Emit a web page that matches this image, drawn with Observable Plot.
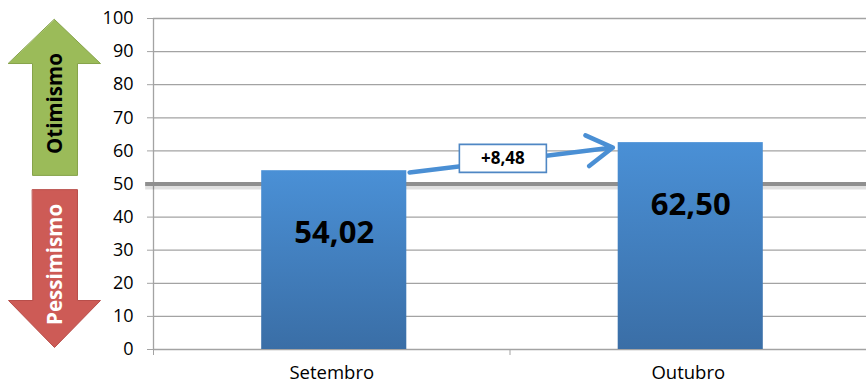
<!DOCTYPE html>
<html><head><meta charset="utf-8">
<script src="https://cdn.jsdelivr.net/npm/d3@7"></script>
<script src="https://cdn.jsdelivr.net/npm/@observablehq/plot@0.6"></script>
<style>
body{margin:0;background:#fff}
#chart svg{display:block}
</style>
</head><body><div id="chart"></div>
<script>
// ---- data ----
const categories = ["Setembro", "Outubro"];
const values = [54.02, 62.50];
const valueLabels = ["54,02", "62,50"];
const yTicks = [0, 10, 20, 30, 40, 50, 60, 70, 80, 90, 100];
const neutralLine = [50];
const changeLabel = ["+8,48"];
const changeArrowY = [53.5, 61.0];      // y of arrow start / end (data units)
const moodLabels = ["Otimismo", "Pessimismo"];
const moodLabelY = [74.3, 25.7];
// mood arrow outlines, in chart units (x: category units left of axis, y: scale value)
const optimismArrow = [
  [-0.2777, 99.7], [-0.1487, 86.4], [-0.2132, 86.4], [-0.2132, 52.6],
  [-0.3394, 52.6], [-0.3394, 86.4], [-0.4067, 86.4]
];
const pessimismArrow = [
  [-0.3394, 48.3], [-0.2132, 48.3], [-0.2132, 14.8], [-0.1487, 14.8],
  [-0.2777, 0.6], [-0.4067, 14.8], [-0.3394, 14.8]
];

const barHalf = 0.2035;
const rows = categories.map((c, i) => ({cat: c, i, value: values[i], label: valueLabels[i]}));
const font = "'Open Sans', sans-serif";

const defs = () => {
  const d = d3.create("svg:defs");
  const g = d.append("linearGradient").attr("id", "barGrad")
    .attr("x1", 0).attr("y1", 0).attr("x2", 0).attr("y2", 1);
  g.append("stop").attr("offset", "0%").attr("stop-color", "#4a90d6");
  g.append("stop").attr("offset", "100%").attr("stop-color", "#3a6ea6");
  return d.node();
};

const chart = Plot.plot({
  width: 866,
  height: 386,
  marginLeft: 153,
  marginRight: 0,
  marginTop: 18,
  marginBottom: 37,
  style: {fontFamily: font, fontSize: "18px", color: "#000", background: "#fff", overflow: "visible"},
  x: {domain: [0, categories.length], axis: null, label: null},
  y: {domain: [0, 100], axis: null, label: null},
  marks: [
    defs,
    // gridlines
    Plot.ruleY(yTicks, {stroke: "#a3a3a3", strokeWidth: 1.3}),
    // y axis line + ticks + labels
    Plot.ruleX([0], {y1: 0, y2: 100, stroke: "#a3a3a3", strokeWidth: 1.3}),
    Plot.axisY({ticks: yTicks, tickSize: 6, tickPadding: 14, stroke: "#a3a3a3", fill: "#000",
                fontSize: 18, tickFormat: d => String(d), label: null}),
    // x axis ticks at category boundaries
    Plot.axisX({ticks: d3.range(categories.length + 1), tickSize: 6, tickFormat: () => "",
                stroke: "#a3a3a3", anchor: "bottom", label: null}),
    // neutral 50 line with soft shadow
    Plot.ruleY(neutralLine, {x1: -0.022, x2: categories.length, stroke: "#000", strokeOpacity: 0.12, strokeWidth: 7, dy: 2}),
    Plot.ruleY(neutralLine, {x1: -0.022, x2: categories.length, stroke: "#8f8f8f", strokeWidth: 4}),
    // bars
    Plot.rectY(rows, {x1: d => d.i + 0.5 - barHalf + 0.007, x2: d => d.i + 0.5 + barHalf + 0.007,
                      y: "value", fill: "url(#barGrad)"}),
    // bar value labels
    Plot.text(rows, {x: d => d.i + 0.5 + 0.007, y: "value", text: "label", dy: 62,
                     fontSize: 31, fontWeight: "bold", fill: "#000"}),
    // category labels
    Plot.text(rows, {x: d => d.i + 0.5, y: 0, text: "cat", dy: 24, fontSize: 18.5, fill: "#000"}),
    // change arrow
    Plot.arrow([0], {x1: 0.5 + barHalf + 0.015, y1: changeArrowY[0],
                     x2: 1.5 - barHalf - 0.008, y2: changeArrowY[1],
                     stroke: "#4a8fd4", strokeWidth: 4.5, headLength: 10, headAngle: 62}),
    // change label box
    Plot.dot(changeLabel, {x: 0.98, y: (changeArrowY[0] + changeArrowY[1]) / 2 + 0.5,
      symbol: {draw(ctx) { ctx.rect(-43.5, -14, 87, 28); }},
      fill: "#fff", stroke: "#4f87c4", strokeWidth: 1.6}),
    Plot.text(changeLabel, {x: 0.98, y: (changeArrowY[0] + changeArrowY[1]) / 2 + 0.5, text: d => d,
      fontSize: 17, fontWeight: "bold", fill: "#000"}),
    // mood arrows
    Plot.line(optimismArrow, {x: d => d[0], y: d => d[1], fill: "#9bbb59", stroke: "#86a34a", strokeWidth: 1, curve: "linear-closed"}),
    Plot.line(pessimismArrow, {x: d => d[0], y: d => d[1], fill: "#cd5b56", stroke: "#b84e4a", strokeWidth: 1, curve: "linear-closed"}),
    Plot.text([moodLabels[0]], {x: -0.2749, y: moodLabelY[0], text: d => d, rotate: -90,
      fontSize: 20.5, fontWeight: "bold", fill: "#000"}),
    Plot.text([moodLabels[1]], {x: -0.2749, y: moodLabelY[1], text: d => d, rotate: -90,
      fontSize: 20.5, fontWeight: "bold", fill: "#fff"})
  ]
});
document.getElementById("chart").append(chart);
</script>
</body></html>
